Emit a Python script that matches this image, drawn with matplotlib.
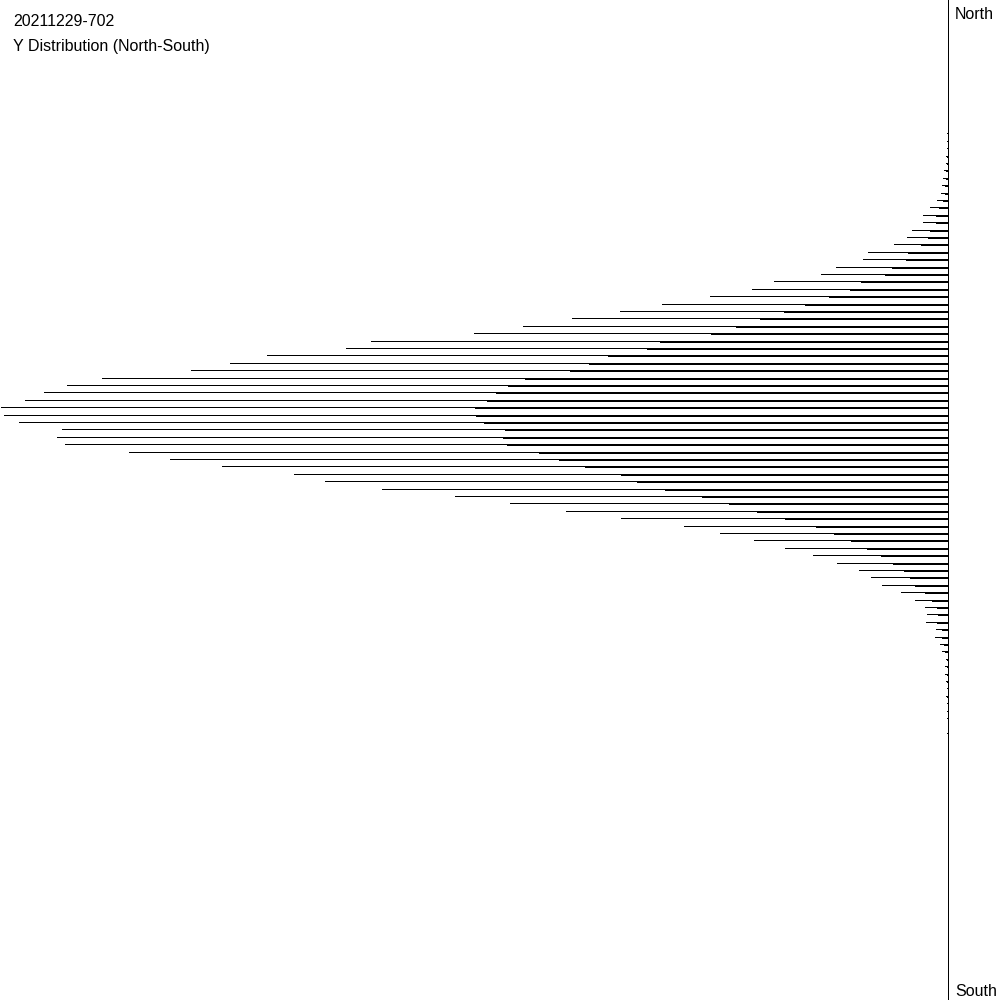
import matplotlib
matplotlib.use("Agg")
import matplotlib.pyplot as plt
import numpy as np

# Bin indices (0 = northernmost bin at the top) and bar lengths
bins = list(range(18, 100))
counts = [
    1.3, 1.3, 1.3, 2.3, 2.3, 4, 5, 6, 7.3, 11,
    18, 25, 25, 36, 41, 54, 80, 85, 112, 127,
    174, 196, 238, 286, 328, 376, 425, 474, 577, 602,
    681, 718, 757, 846, 881, 904, 923, 947, 944, 929,
    886, 891, 883, 819, 778, 726, 654, 623, 566, 493,
    438, 382, 327, 264, 228, 194, 163, 135, 111, 89,
    77, 66, 47, 33, 23, 21, 22, 12, 13, 8,
    6, 2, 3.3, 3.3, 2, 1.3, 2.3, 1.3, 1.3, 1.3,
    0, 1.3,
]
title_id = "20211229-702"
title_text = "Y Distribution (North-South)"
top_label = "North"
bottom_label = "South"

plt.rcParams['font.family'] = ['Liberation Sans', 'DejaVu Sans']

fig = plt.figure(figsize=(10, 10), dpi=100)
ax = fig.add_axes([0, 0, 1, 1])
ax.set_axis_off()

px_per_bin = 7.4
n_bins_view = 1000 / px_per_bin
ax.set_ylim(n_bins_view - 0.02, -0.02)
ax.set_xlim(948.3, 948.3 - 1000)

b = np.array(bins, dtype=float)
c = np.array(counts, dtype=float)
lw = 0.72 * 1.0  # 1 px
mask = c > 0
ax.hlines(b[mask], 0, c[mask], colors='black', linewidth=lw, antialiased=False)
# inner half-length companion stroke one pixel below each bar
ax.hlines(b[mask] + 1.0 / px_per_bin, 0, c[mask] * 0.5, colors='black',
          linewidth=lw, antialiased=False)

# axis line
ax.axvline(0, color='black', linewidth=lw, antialiased=False)

fs = 11.5
fig.text(0.013, 1 - 26 / 1000, title_id, fontsize=fs, va='baseline', ha='left')
fig.text(0.013, 1 - 51 / 1000, title_text, fontsize=fs, va='baseline', ha='left')
fig.text(0.955, 1 - 19 / 1000, top_label, fontsize=fs, va='baseline', ha='left')
fig.text(0.955, 1 - 996 / 1000, bottom_label, fontsize=fs, va='baseline', ha='left')

fig.savefig("out.png", dpi=100, facecolor='white')
